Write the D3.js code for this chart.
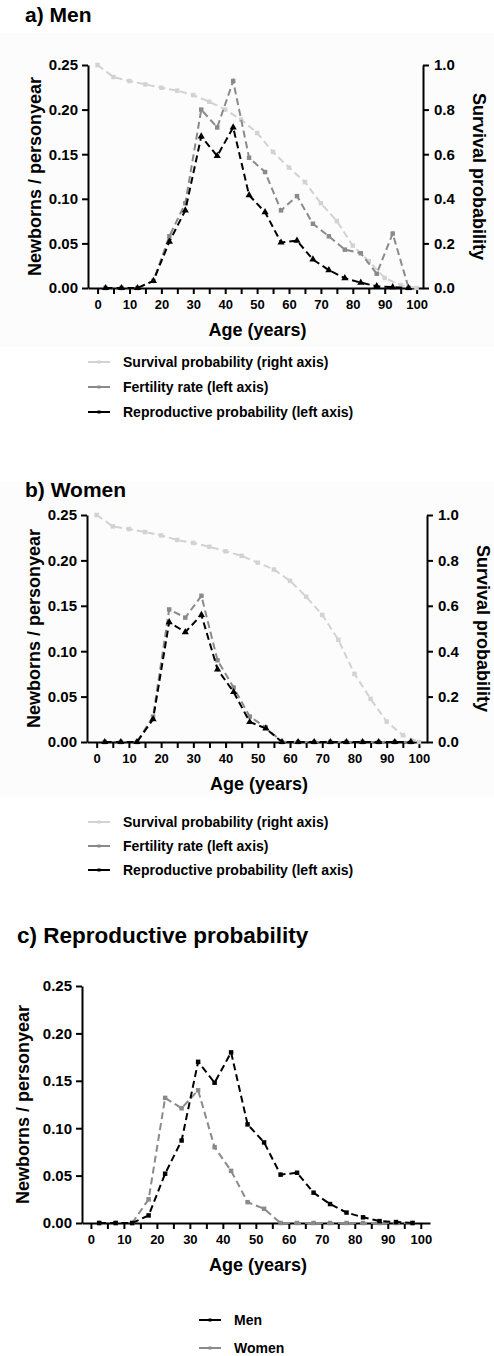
<!DOCTYPE html>
<html>
<head>
<meta charset="utf-8">
<script src="https://cdn.jsdelivr.net/npm/d3@7"></script>
<style>
  body { margin: 0; background: #fff; }
  text { font-family: "Liberation Sans", Arial, sans-serif; font-weight: bold; fill: #000; }
</style>
</head>
<body>
<div id="viz"></div>
<script>
// age points: survival is given at exact ages, fertility at the middle of 5-year groups
const survAges = [0, 5, 10, 15, 20, 25, 30, 35, 40, 45, 50, 55, 60, 65, 70, 75, 80, 85, 90, 95, 100];
const midAges = [2.5, 7.5, 12.5, 17.5, 22.5, 27.5, 32.5, 37.5, 42.5, 47.5, 52.5, 57.5, 62.5, 67.5, 72.5, 77.5, 82.5, 87.5, 92.5, 97.5];

// a) men
const menSurvival = [1.0, 0.946, 0.928, 0.913, 0.898, 0.885, 0.865, 0.835, 0.80, 0.755, 0.695, 0.61, 0.54, 0.475, 0.38, 0.30, 0.19, 0.12, 0.045, 0.013, 0.0];
const menFertility = [0, 0, 0, 0.008, 0.058, 0.095, 0.200, 0.180, 0.232, 0.146, 0.130, 0.087, 0.103, 0.072, 0.058, 0.043, 0.039, 0.016, 0.061, 0];
const menRepro = [0, 0, 0, 0.008, 0.052, 0.087, 0.170, 0.148, 0.180, 0.104, 0.085, 0.051, 0.053, 0.032, 0.020, 0.011, 0.006, 0.002, 0.001, 0];

// b) women
const womenSurvival = [1.0, 0.95, 0.938, 0.925, 0.91, 0.89, 0.877, 0.86, 0.84, 0.82, 0.79, 0.76, 0.71, 0.64, 0.56, 0.45, 0.30, 0.19, 0.09, 0.03, 0.0];
const womenFertility = [0, 0, 0, 0.028, 0.146, 0.137, 0.161, 0.090, 0.060, 0.028, 0.016, 0, 0, 0, 0, 0, 0, 0, 0, 0];
const womenRepro = [0, 0, 0, 0.025, 0.132, 0.121, 0.140, 0.080, 0.055, 0.022, 0.015, 0, 0, 0, 0, 0, 0, 0, 0, 0];

// tick labels
const leftTicks = [0, 0.05, 0.10, 0.15, 0.20, 0.25];
const rightTicks = [0, 0.2, 0.4, 0.6, 0.8, 1.0];
const ageTicks = [0, 5, 10, 15, 20, 25, 30, 35, 40, 45, 50, 55, 60, 65, 70, 75, 80, 85, 90, 95, 100];

const cSurv = "#d2d2d2", cFert = "#8a8a8a", cRepro = "#000";

const svg = d3.select("#viz").append("svg")
    .attr("width", 494)
    .attr("height", 1356);

// faint panel backgrounds of the original figure
svg.append("rect").attr("x", 0).attr("y", 33).attr("width", 494).attr("height", 314).attr("fill", "#fcfcfc");
svg.append("rect").attr("x", 0).attr("y", 482).attr("width", 494).attr("height", 314).attr("fill", "#fcfcfc");

// draw one dashed series with its markers
function series(g, x, y, ages, vals, color, shape) {
    const pts = ages.map((a, i) => [a, vals[i]]);
    g.append("path")
        .datum(pts)
        .attr("fill", "none")
        .attr("stroke", color)
        .attr("stroke-width", 2)
        .attr("stroke-dasharray", "7,4")
        .attr("d", d3.line().x(d => x(d[0])).y(d => y(d[1])));
    const sym = d3.symbol().type(shape === "tri" ? d3.symbolTriangle : d3.symbolSquare)
        .size(shape === "tri" ? 22 : 20);
    g.selectAll(null)
        .data(pts)
        .join("path")
        .attr("transform", d => `translate(${x(d[0])},${y(d[1])})`)
        .attr("fill", color)
        .attr("d", sym);
}

function styleAxis(g) {
    g.select(".domain").attr("stroke-width", 2);
    g.selectAll(".tick line").attr("stroke-width", 2);
    g.selectAll("text").attr("font-family", null);
}

function panel(o) {
    const g = svg.append("g");
    const x = d3.scaleLinear().domain(o.xDomain).range([o.left, o.right]);
    const y = d3.scaleLinear().domain([0, 0.25]).range([o.bottom, o.top]);
    const y2 = d3.scaleLinear().domain([0, 1]).range([o.bottom, o.top]);

    g.append("text").attr("x", o.titleX).attr("y", o.titleY)
        .attr("font-size", o.titleSize).text(o.title);

    // x axis
    const ax = g.append("g")
        .attr("transform", `translate(0,${o.bottom})`)
        .call(d3.axisBottom(x).tickValues(ageTicks).tickSize(6).tickSizeOuter(0)
            .tickFormat(d => d % 10 === 0 ? d : ""));
    styleAxis(ax);
    ax.selectAll("text").attr("font-size", 13).attr("dy", "0.95em");

    // left axis
    const ay = g.append("g")
        .attr("transform", `translate(${o.left},0)`)
        .call(d3.axisLeft(y).tickValues(leftTicks).tickSize(6).tickSizeOuter(0)
            .tickFormat(d3.format(".2f")));
    styleAxis(ay);
    ay.selectAll("text").attr("font-size", 15).attr("dx", "-1px");

    g.append("text")
        .attr("transform", `translate(${o.yLabelX},${(o.top + o.bottom) / 2}) rotate(-90)`)
        .attr("text-anchor", "middle").attr("font-size", 18)
        .text("Newborns / personyear");

    if (o.right2) {
        const ay2 = g.append("g")
            .attr("transform", `translate(${o.right},0)`)
            .call(d3.axisRight(y2).tickValues(rightTicks).tickSize(6).tickSizeOuter(0)
                .tickFormat(d3.format(".1f")));
        styleAxis(ay2);
        ay2.selectAll("text").attr("font-size", 15).attr("dx", "2px");
        g.append("text")
            .attr("transform", `translate(${o.right + 50},${(o.top + o.bottom) / 2}) rotate(90)`)
            .attr("text-anchor", "middle").attr("font-size", 18)
            .text("Survival probability");
    }

    g.append("text")
        .attr("x", (o.left + o.right) / 2 + 2).attr("y", o.bottom + 48)
        .attr("text-anchor", "middle").attr("font-size", 18)
        .text("Age (years)");

    o.draw(g, x, y, y2);

    // legend
    o.legend.forEach((l, i) => {
        const ly = o.legendY + i * o.legendStep;
        g.append("line")
            .attr("x1", o.legendX).attr("x2", o.legendX + 22)
            .attr("y1", ly).attr("y2", ly)
            .attr("stroke", l.color).attr("stroke-width", 2);
        g.append("rect")
            .attr("x", o.legendX + 9.5).attr("y", ly - 1.5)
            .attr("width", 3).attr("height", 3).attr("fill", l.color);
        g.append("text")
            .attr("x", o.legendX + 35).attr("y", ly + 5)
            .attr("font-size", 14).text(l.label);
    });
}

const legendAB = [
    { label: "Survival probability (right axis)", color: cSurv },
    { label: "Fertility rate (left axis)", color: cFert },
    { label: "Reproductive probability (left axis)", color: cRepro }
];

panel({
    title: "a) Men", titleX: 25, titleY: 22, titleSize: 21,
    left: 88, right: 423, top: 65, bottom: 288, xDomain: [-3, 102],
    right2: true, yLabelX: 41,
    legend: legendAB, legendX: 88, legendY: 362, legendStep: 25,
    draw: (g, x, y, y2) => {
        series(g, x, y2, survAges, menSurvival, cSurv, "sq");
        series(g, x, y, midAges, menFertility, cFert, "sq");
        series(g, x, y, midAges, menRepro, cRepro, "tri");
    }
});

panel({
    title: "b) Women", titleX: 25, titleY: 497, titleSize: 21,
    left: 87, right: 427, top: 515, bottom: 742, xDomain: [-3, 102.5],
    right2: true, yLabelX: 40,
    legend: legendAB, legendX: 88, legendY: 822, legendStep: 24,
    draw: (g, x, y, y2) => {
        series(g, x, y2, survAges, womenSurvival, cSurv, "sq");
        series(g, x, y, midAges, womenFertility, cFert, "sq");
        series(g, x, y, midAges, womenRepro, cRepro, "tri");
    }
});

panel({
    title: "c) Reproductive probability", titleX: 17, titleY: 943, titleSize: 22.5,
    left: 82, right: 430, top: 986, bottom: 1223, xDomain: [-2.7, 102.8],
    right2: false, yLabelX: 29,
    legend: [
        { label: "Men", color: cRepro },
        { label: "Women", color: cFert }
    ],
    legendX: 199, legendY: 1320, legendStep: 28,
    draw: (g, x, y) => {
        series(g, x, y, midAges, womenRepro, cFert, "sq");
        series(g, x, y, midAges, menRepro, cRepro, "sq");
    }
});
</script>
</body>
</html>
